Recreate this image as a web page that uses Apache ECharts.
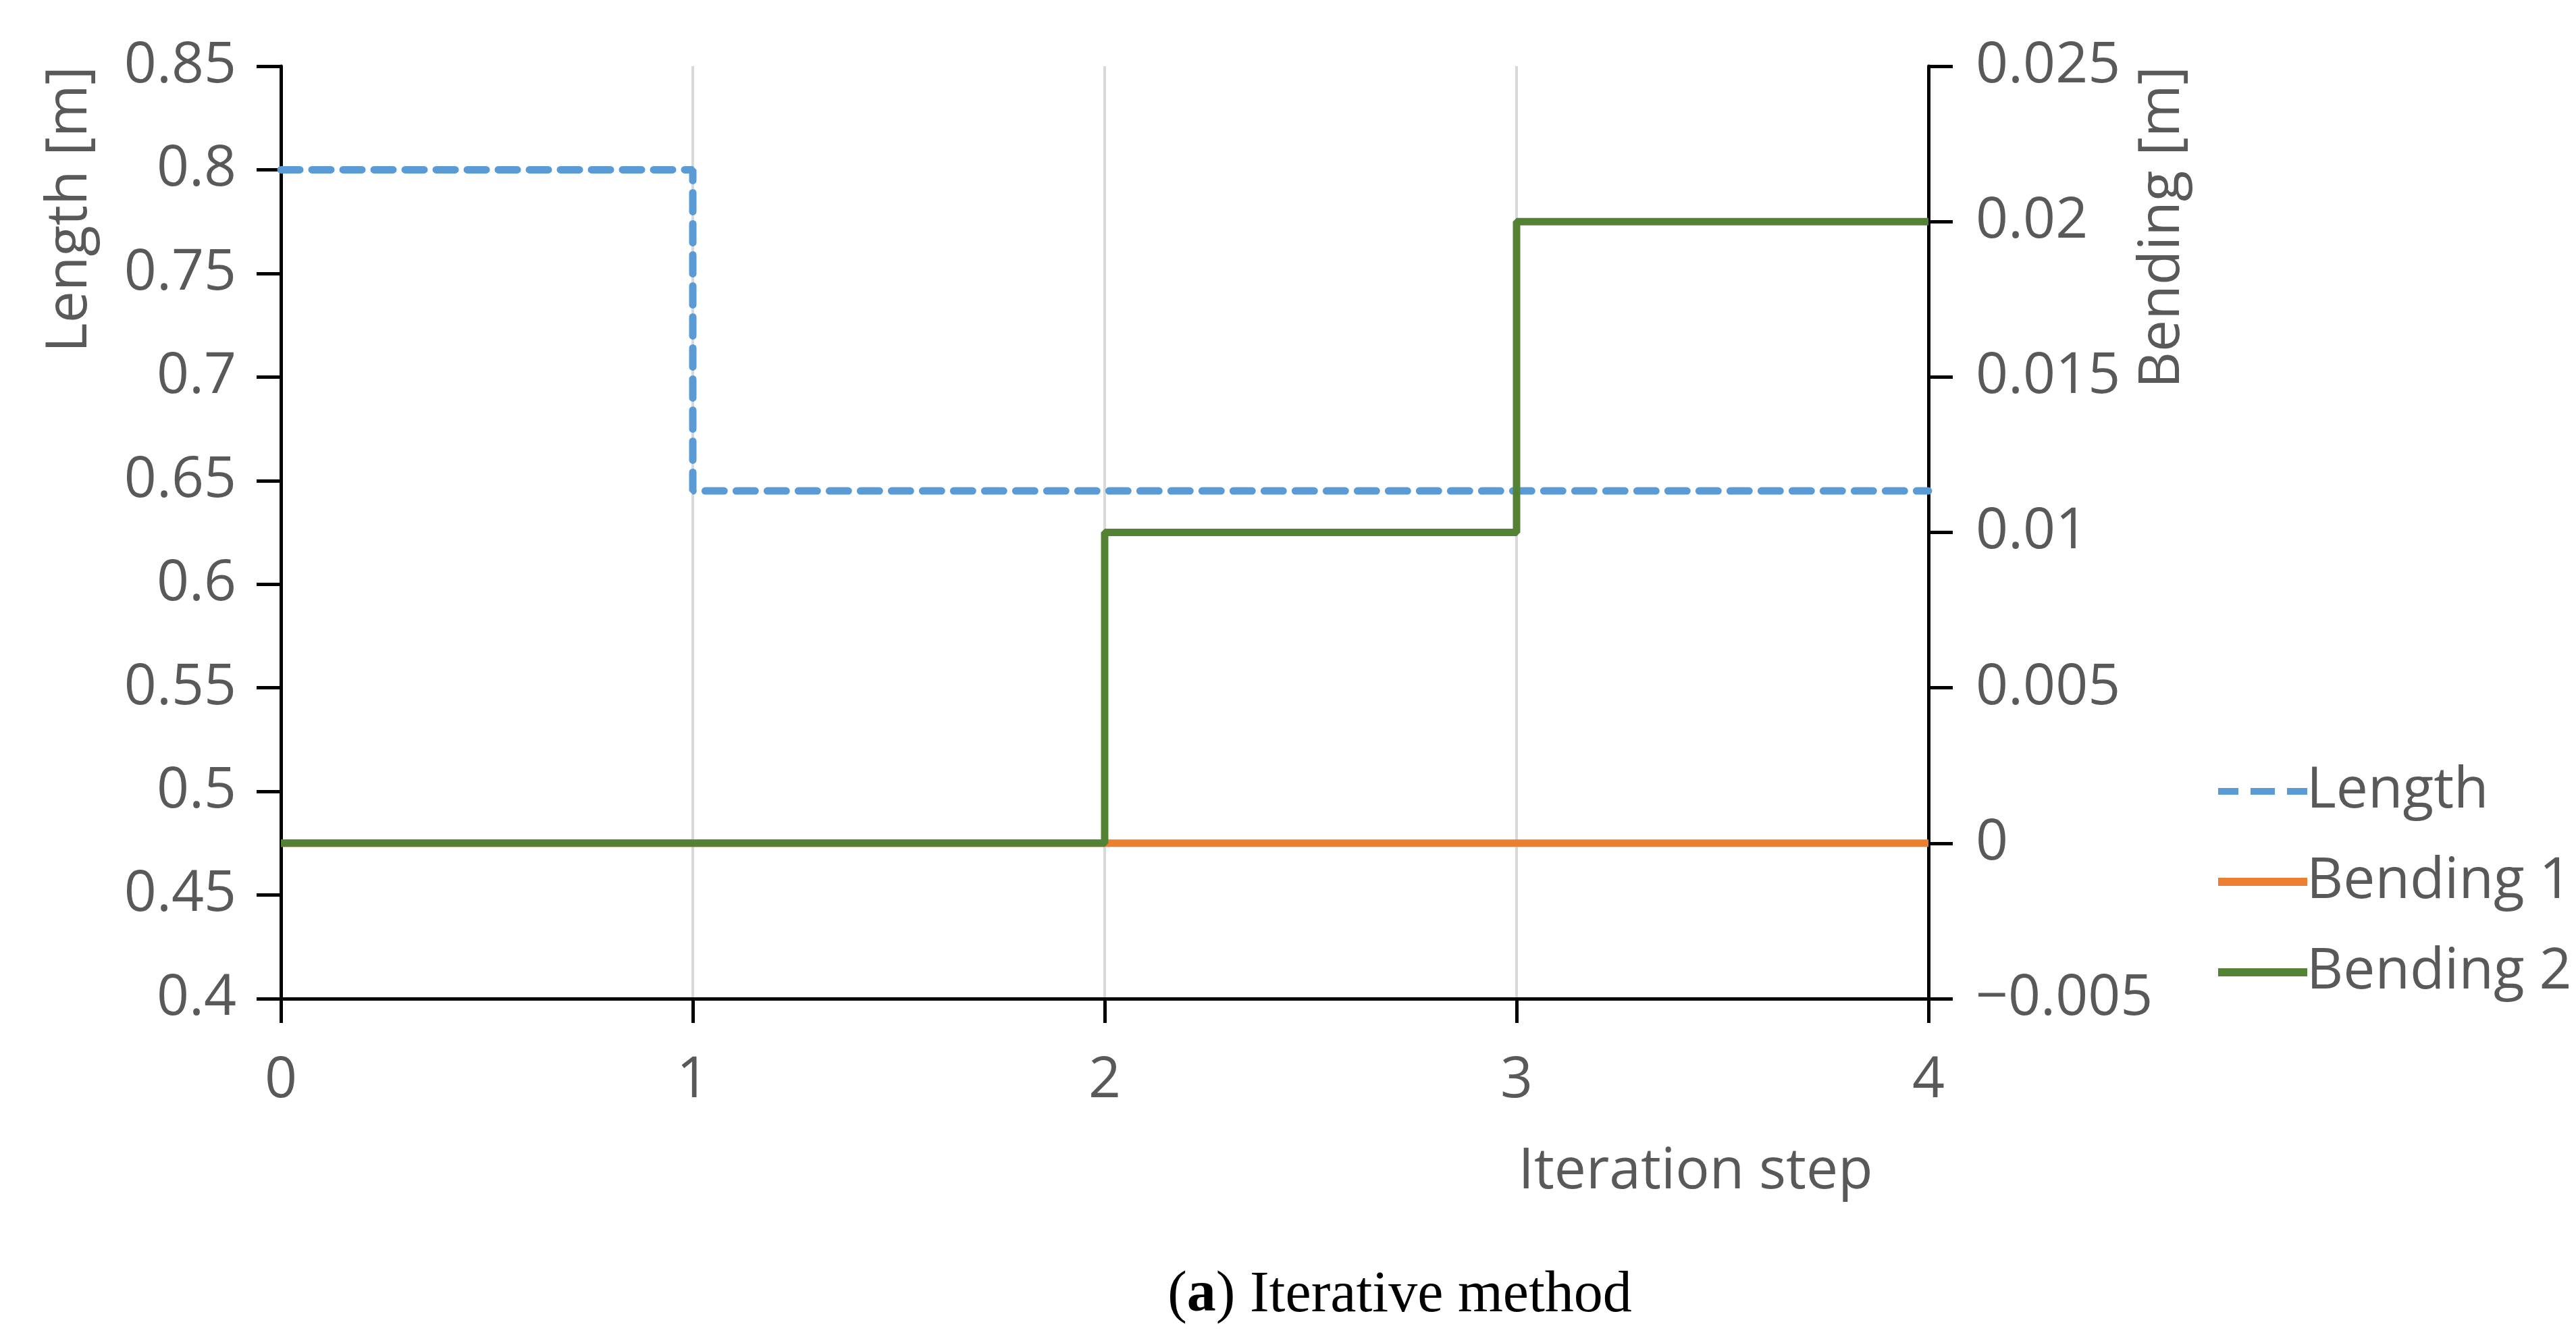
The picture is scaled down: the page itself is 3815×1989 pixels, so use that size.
<!DOCTYPE html>
<html><head><meta charset="utf-8">
<script src="https://cdn.jsdelivr.net/npm/echarts@6/dist/echarts.min.js"></script>
<style>html,body{margin:0;padding:0;background:#fff}#c{width:3815px;height:1989px}</style>
</head><body><div id="c"></div>
<script>
const lengthX = [0, 1, 1, 4];
const lengthY = [0.8, 0.8, 0.645, 0.645];
const bend1X = [0, 4];
const bend1Y = [0, 0];
const bend2X = [0, 2, 2, 3, 3, 4];
const bend2Y = [0, 0, 0.01, 0.01, 0.02, 0.02];
const xTicks = [0, 1, 2, 3, 4];
const leftTicks = [0.4, 0.45, 0.5, 0.55, 0.6, 0.65, 0.7, 0.75, 0.8, 0.85];
const rightTicks = [-0.005, 0, 0.005, 0.01, 0.015, 0.02, 0.025];

const pts = (xs, ys) => xs.map((x, i) => [x, ys[i]]);
const F = "'Open Sans', 'Noto Sans', sans-serif";
const FS = 84;
const grey = '#595959';
const chart = echarts.init(document.getElementById('c'));
chart.setOption({
  animation: false,
  backgroundColor: '#fff',
  grid: { left: 416, right: 3815 - 2856, top: 98, bottom: 1989 - 1479, containLabel: false },
  xAxis: {
    type: 'value', min: 0, max: 4, interval: 1,
    axisLine: { onZero: false, lineStyle: { color: '#000', width: 5 } },
    axisTick: { show: true, length: 36, lineStyle: { color: '#000', width: 5 } },
    axisLabel: { color: grey, fontSize: FS, fontFamily: F, margin: 80 },
    splitLine: { show: true, lineStyle: { color: '#d9d9d9', width: 4 } }
  },
  yAxis: [{
    type: 'value', min: 0.4, max: 0.85, interval: 0.05, position: 'left',
    axisLine: { show: true, lineStyle: { color: '#000', width: 5 } },
    axisTick: { show: true, length: 36, lineStyle: { color: '#000', width: 5 } },
    axisLabel: { color: grey, fontSize: FS, fontFamily: F, margin: 66, formatter: v => String(+v.toFixed(2)) },
    splitLine: { show: false },
    name: 'Length [m]', nameLocation: 'end', nameRotate: 90, nameGap: 0,
    nameTextStyle: { color: grey, fontSize: FS, fontFamily: F, align: 'right', verticalAlign: 'bottom', padding: [0, 0, 270, 0] }
  }, {
    type: 'value', min: -0.005, max: 0.025, interval: 0.005, position: 'right',
    axisLine: { show: true, lineStyle: { color: '#000', width: 5 } },
    axisTick: { show: true, length: 36, lineStyle: { color: '#000', width: 5 } },
    axisLabel: { color: grey, fontSize: FS, fontFamily: F, margin: 70, formatter: v => { const s = String(+v.toFixed(3)); return s.replace('-', '\u2212'); } },
    splitLine: { show: false },
    name: 'Bending [m]', nameLocation: 'end', nameRotate: 90, nameGap: 0,
    nameTextStyle: { color: grey, fontSize: FS, fontFamily: F, align: 'right', verticalAlign: 'top', padding: [305, 0, 0, 0] }
  }],
  legend: {
    orient: 'vertical', left: 3280, top: 1125, itemWidth: 132, itemHeight: 12, itemGap: 50,
    textStyle: { color: grey, fontSize: FS, fontFamily: F, padding: [0, 0, 0, -6] },
    data: [
      { name: 'Length', icon: 'path://M0,0h30v10h-30z M48,0h36v10h-36z M102,0h30v10h-30z', itemStyle: { color: '#5b9bd5' } },
      { name: 'Bending 1', icon: 'rect', itemStyle: { color: '#ed7d31' } },
      { name: 'Bending 2', icon: 'rect', itemStyle: { color: '#548235' } }
    ]
  },
  series: [
    { name: 'Length', type: 'line', yAxisIndex: 0, data: pts(lengthX, lengthY), showSymbol: false, symbol: 'none',
      lineStyle: { color: '#5b9bd5', width: 11, type: [28, 18], cap: 'round' }, itemStyle: { color: '#5b9bd5' } },
    { name: 'Bending 1', type: 'line', yAxisIndex: 1, data: pts(bend1X, bend1Y), showSymbol: false, symbol: 'none',
      lineStyle: { color: '#ed7d31', width: 11 }, itemStyle: { color: '#ed7d31' } },
    { name: 'Bending 2', type: 'line', yAxisIndex: 1, data: pts(bend2X, bend2Y), showSymbol: false, symbol: 'none',
      lineStyle: { color: '#548235', width: 11 }, itemStyle: { color: '#548235' } }
  ],
  graphic: [{
    type: 'text', x: 2511, y: 1736,
    style: { text: 'Iteration step', fill: grey, fontSize: FS, fontFamily: F, textAlign: 'center', textVerticalAlign: 'middle' }
  }, {
    type: 'text', x: 2073, y: 1919,
    style: { rich: { b: { fontWeight: 'bold', fontSize: 86, fontFamily: "'Liberation Serif', serif", fill: '#000' },
                     n: { fontSize: 86, fontFamily: "'Liberation Serif', serif", fill: '#000' } },
             text: '{n|(}{b|a}{n|) Iterative method}', textAlign: 'center', textVerticalAlign: 'middle' }
  }]
});
</script></body></html>
